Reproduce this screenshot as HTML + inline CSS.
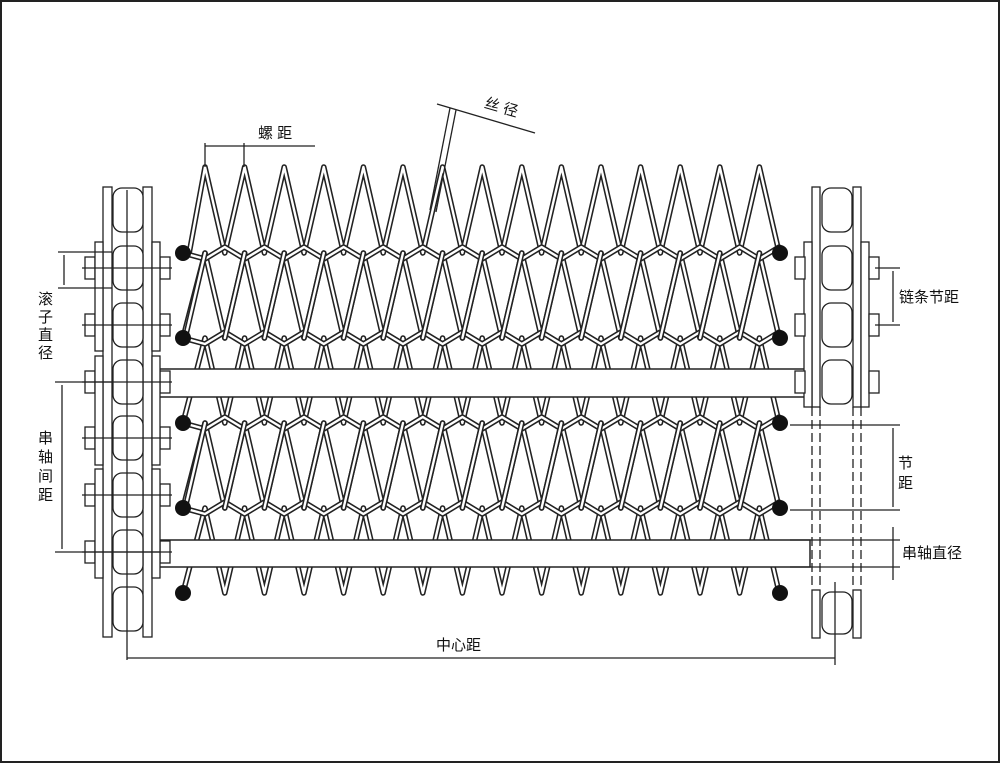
<!DOCTYPE html>
<html><head><meta charset="utf-8"><style>
html,body{margin:0;padding:0;background:#fff}
svg{display:block}
text{font-family:"Liberation Sans","Noto Sans CJK SC",sans-serif;font-size:15px;fill:#111}
</style></head><body>
<svg id="s" width="1000" height="763" viewBox="0 0 1000 763" xmlns="http://www.w3.org/2000/svg">
<rect x="1" y="1" width="998" height="761" fill="#fff" stroke="#222" stroke-width="2"/>
<g id="mesh"></g>
<g id="rest" stroke="#222" fill="none" stroke-width="1.3"></g>
<g id="txt">
<text x="258" y="138">螺 距</text>
<text x="484" y="112" transform="rotate(16 500 108)">丝 径</text>
<text x="38" y="304">滚</text><text x="38" y="322">子</text><text x="38" y="340">直</text><text x="38" y="358">径</text>
<text x="38" y="443">串</text><text x="38" y="462">轴</text><text x="38" y="481">间</text><text x="38" y="500">距</text>
<text x="899" y="302">链条节距</text>
<text x="898" y="468">节</text><text x="898" y="488">距</text>
<text x="902" y="558">串轴直径</text>
<text x="436" y="650">中心距</text>
</g>
</svg>
<script>
var NS="http://www.w3.org/2000/svg";
function el(p,t,a){var e=document.createElementNS(NS,t);for(var k in a)e.setAttribute(k,a[k]);p.appendChild(e);return e;}
var mesh=document.getElementById('mesh'),rest=document.getElementById('rest');
function wire(d){el(mesh,'path',{d:d,stroke:'#222','stroke-width':5.5,fill:'none','stroke-linejoin':'round','stroke-linecap':'round'});
el(mesh,'path',{d:d,stroke:'#fff','stroke-width':2.4,fill:'none','stroke-linejoin':'round','stroke-linecap':'round'});}
var P=39.6,x0=205,N=15;
var rows=[167,253,338,423,508,593];
for(var r=0;r<5;r++){
 var yt=rows[r],yb=rows[r+1];
 var d='M'+(r==0?x0-P/2+4:183)+' '+yb;
 for(var i=0;i<N;i++){var px=x0+i*P;d+=' L'+px+' '+yt+' L'+Math.min(px+P/2,780)+' '+yb;}
 wire(d);
}
for(var r=1;r<5;r++){
 var y=rows[r];var d='M183 '+y;
 for(var i=0;i<N;i++){var px=x0+i*P;d+=' L'+(px)+' '+(y+6)+' L'+(px+P/2)+' '+(y-6);}
 d+=' L780 '+y;wire(d);
}
[[369,397],[540,567]].forEach(function(r,k){
 el(mesh,'rect',{x:158,y:r[0],width:652,height:r[1]-r[0],fill:'#fff',stroke:'#222','stroke-width':1.5});
 var yt=rows[k*2+1],yb=rows[k*2+2];
 for(var i=0;i<N;i++){var px=x0+i*P;wire('M'+(px-P/2)+' '+yb+' L'+px+' '+yt);}
});
rows.slice(1).forEach(function(y){el(mesh,'circle',{cx:183,cy:y,r:8,fill:'#111'});el(mesh,'circle',{cx:780,cy:y,r:8,fill:'#111'});});
function rect(x,y,w,h,rx){el(rest,'rect',{x:x,y:y,width:w,height:h,rx:rx||0,fill:'#fff'});}
function line(x1,y1,x2,y2,extra){var a={x1:x1,y1:y1,x2:x2,y2:y2};for(var k in extra)a[k]=extra[k];el(rest,'line',a);}
var L=[210,268,325,382,438,495,552,609];
rect(103,187,9,450);rect(143,187,9,450);
for(var i=1;i<7;i++){rect(85,L[i]-11,10,22);rect(160,L[i]-11,10,22);}
for(var i=0;i<3;i++){rect(95,L[1+2*i]-26,8,109);rect(152,L[1+2*i]-26,8,109);}
L.forEach(function(y){rect(113,y-22,30,44,9);});
line(127,190,127,660);
for(var i=1;i<7;i++)line(82,L[i],172,L[i]);
var R=[210,268,325,382];
rect(812,187,8,220);rect(853,187,8,220);
rect(804,242,8,165);rect(861,242,8,165);
for(var i=1;i<4;i++){rect(795,R[i]-11,10,22);rect(869,R[i]-11,10,22);}
R.forEach(function(y){rect(822,y-22,30,44,9);});
[812,820,853,861].forEach(function(x){line(x,407,x,585,{'stroke-dasharray':'9 4'});});
rect(812,590,8,48);rect(853,590,8,48);rect(822,592,30,42,9);
line(835,582,835,665);
line(205,143,205,167);line(244,143,244,167);line(205,146,315,146);
line(437,104,535,133);line(450,108,430,210);line(456,110,436,212);
line(58,252,112,252);line(58,288,112,288);line(64,255,64,285);
line(55,382,112,382);line(55,552,160,552);line(62,385,62,549);
line(875,268,900,268);line(875,325,900,325);line(893,271,893,322);
line(790,425,900,425);line(790,510,900,510);line(893,428,893,507);
line(790,540,900,540);line(790,567,900,567);line(893,527,893,580);
line(127,658,835,658);
</script>
</body></html>
